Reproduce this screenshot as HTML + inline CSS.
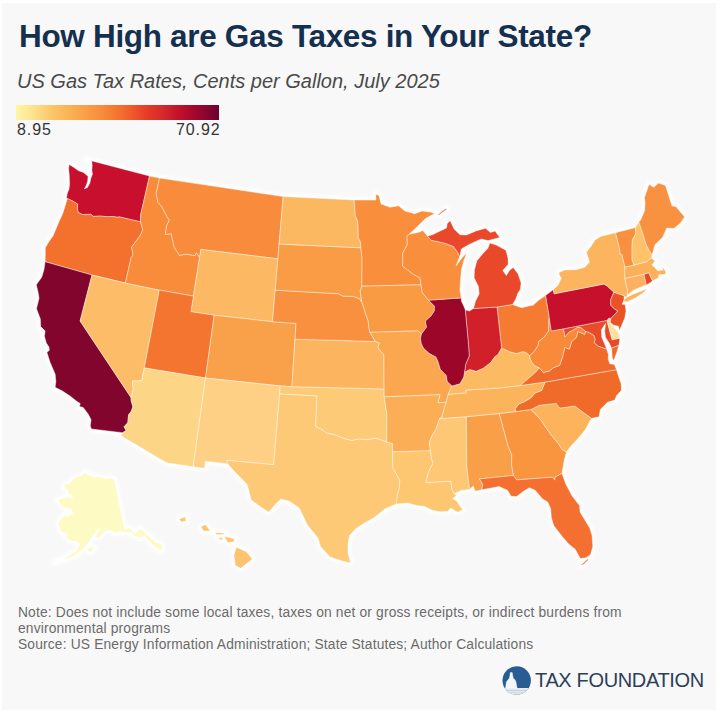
<!DOCTYPE html>
<html><head><meta charset="utf-8">
<style>
html,body{margin:0;padding:0;}
body{width:720px;height:714px;background:#fff;position:relative;overflow:hidden;font-family:"Liberation Sans",sans-serif;}
#panel{position:absolute;left:2px;top:3px;width:714px;height:707px;background:#f8f8f8;}
.t{position:absolute;white-space:nowrap;}
#title{left:19px;top:17px;font-size:31.5px;font-weight:bold;color:#15304f;line-height:38px;letter-spacing:-0.32px;}
#sub{left:17px;top:69px;font-size:20px;font-style:italic;color:#4a4a4a;line-height:24px;}
#legbar{position:absolute;left:16px;top:105px;width:203px;height:14.5px;background:linear-gradient(to right,#fff6a8 0%,#fde38e 8%,#fcc568 18%,#faa94f 30%,#f78d3d 42%,#f47530 50%,#ef5a2b 57%,#e53a28 65%,#d62a2a 72%,#c2122b 80%,#a60a2c 87%,#880530 94%,#6c0030 100%);}
.leg{top:121px;font-size:16px;color:#333;line-height:18px;letter-spacing:0.9px;}
#note{left:18px;top:604.5px;font-size:13.8px;color:#6b6b6b;line-height:16.45px;letter-spacing:0.16px;}
#lt{left:535px;top:669px;font-size:20px;color:#2c405b;line-height:22px;letter-spacing:-0.35px;}
svg{position:absolute;left:0;top:0;}
svg path{stroke:rgba(255,255,255,0.42);stroke-width:1;stroke-linejoin:round;}
svg .halo path{fill:none;stroke:#fff;stroke-width:6;}
</style></head><body>
<div id="panel"></div>
<div class="t" id="title">How High are Gas Taxes in Your State?</div>
<div class="t" id="sub">US Gas Tax Rates, Cents per Gallon, July 2025</div>
<div id="legbar"></div>
<div class="t leg" style="left:17px">8.95</div>
<div class="t leg" style="left:176px">70.92</div>
<svg width="720" height="714" viewBox="0 0 720 714">
<defs><filter id="hb" x="-5%" y="-5%" width="110%" height="110%"><feGaussianBlur stdDeviation="1.6"/></filter></defs><g class="halo" filter="url(#hb)"><path d="M86.3,159.5L149.5,176.0L140.6,215.1L140.4,221.8L118.8,216.8L118.1,217.4L112.7,216.5L107.6,216.7L100.4,216.1L93.5,216.4L90.7,214.3L82.6,214.5L78.1,212.4L77.4,208.9L77.6,204.1L72.8,201.1L67.3,198.6L66.5,197.5L67.4,192.9L69.0,189.3L69.6,183.7L69.3,175.5L68.6,168.8L69.2,164.4L73.1,166.9L78.6,170.7L83.5,172.5L85.3,174.1L88.0,176.2L87.7,181.0L86.2,185.4L84.3,188.9L87.5,187.4L89.8,183.2L90.8,178.6L92.4,174.2L91.9,170.0L92.2,165.3L91.7,161.1L86.3,159.5Z"/><path d="M67.3,198.6L72.8,201.1L77.6,204.1L77.4,208.9L78.1,212.4L82.6,214.5L90.7,214.3L93.5,216.4L100.4,216.1L107.6,216.7L112.7,216.5L118.1,217.4L118.8,216.8L140.4,221.8L141.6,225.3L142.7,230.4L139.7,236.2L137.2,239.6L131.5,247.2L132.7,252.3L132.5,255.5L131.1,257.6L125.4,283.0L92.0,275.0L45.1,261.7L45.3,253.6L45.3,247.8L49.0,241.5L53.0,236.1L57.8,224.4L63.0,212.8L65.8,203.8L67.3,198.6Z"/><path d="M45.1,261.7L92.0,275.0L80.1,321.0L131.0,397.5L131.2,400.8L132.9,406.8L131.3,411.3L128.6,414.8L127.8,422.7L124.0,426.8L126.2,430.4L122.8,432.7L91.4,429.0L90.3,426.0L91.1,419.7L88.3,414.2L83.2,407.4L79.5,406.5L80.2,403.4L76.7,401.3L70.1,396.0L62.1,390.8L55.1,387.3L55.9,381.8L55.2,374.2L50.0,362.1L46.9,352.2L49.3,350.4L49.0,347.1L46.3,343.0L44.4,335.9L45.2,331.1L40.7,326.6L40.4,319.0L36.5,308.8L39.1,298.0L38.2,292.7L36.3,284.7L41.7,277.3L44.0,269.7L45.1,261.7Z"/><path d="M92.0,275.0L125.4,283.0L159.3,290.1L144.3,367.9L141.9,380.3L137.2,381.0L132.8,380.9L132.6,384.9L133.3,389.9L131.0,397.5L80.1,321.0L92.0,275.0Z"/><path d="M149.5,176.0L159.5,178.1L156.2,193.6L158.1,202.5L161.7,206.4L167.2,217.1L169.4,219.9L166.6,225.8L165.4,234.3L171.1,233.8L174.2,247.2L179.5,255.4L186.0,254.1L194.8,255.6L196.4,252.7L199.6,257.5L193.4,296.1L159.3,290.1L125.4,283.0L131.1,257.6L132.5,255.5L132.7,252.3L131.5,247.2L137.2,239.6L139.7,236.2L142.7,230.4L141.6,225.3L140.4,221.8L140.6,215.1L149.5,176.0Z"/><path d="M159.5,178.1L283.2,196.6L279.1,244.1L277.9,258.8L200.9,249.4L199.6,257.5L196.4,252.7L194.8,255.6L186.0,254.1L179.5,255.4L174.2,247.2L171.1,233.8L165.4,234.3L166.6,225.8L169.4,219.9L167.2,217.1L161.7,206.4L158.1,202.5L156.2,193.6L159.5,178.1Z"/><path d="M199.6,257.5L200.9,249.4L277.9,258.8L275.2,290.2L272.5,321.7L214.2,315.2L190.9,311.7L193.4,296.1L199.6,257.5Z"/><path d="M159.3,290.1L193.4,296.1L190.9,311.7L214.2,315.2L205.5,378.0L144.3,367.9L159.3,290.1Z"/><path d="M214.2,315.2L272.5,321.7L296.0,323.4L295.0,339.2L291.9,386.7L280.2,385.9L205.5,378.0L214.2,315.2Z"/><path d="M144.3,367.9L205.5,378.0L193.2,466.8L166.5,462.8L121.0,435.8L122.8,432.7L126.2,430.4L124.0,426.8L127.8,422.7L128.6,414.8L131.3,411.3L132.9,406.8L131.2,400.8L131.0,397.5L133.3,389.9L132.6,384.9L132.8,380.9L137.2,381.0L141.9,380.3L144.3,367.9Z"/><path d="M205.5,378.0L280.2,385.9L279.6,393.8L273.7,464.7L226.6,460.3L227.8,463.9L205.4,461.2L204.5,468.3L193.2,466.8L205.5,378.0Z"/><path d="M279.6,393.8L317.0,395.9L315.7,426.6L322.0,429.4L325.8,432.7L334.7,434.6L342.4,437.9L351.4,440.4L359.2,438.9L367.0,439.7L376.0,438.1L386.7,442.1L392.4,443.4L392.6,451.8L392.9,467.9L396.3,474.1L399.8,480.3L399.3,488.2L397.4,494.6L396.3,504.0L384.8,508.9L382.1,511.3L373.9,517.7L364.2,523.2L355.9,528.6L349.5,535.6L348.0,543.4L347.9,552.7L350.6,562.9L342.8,561.2L330.1,557.0L320.5,546.6L318.0,537.9L307.4,524.9L299.3,508.1L289.4,501.2L280.7,499.1L275.5,504.3L268.8,512.0L260.3,506.7L251.2,500.0L247.2,484.6L236.2,473.2L227.8,463.9L226.6,460.3L273.7,464.7L279.6,393.8Z"/><path d="M280.2,385.9L291.9,386.7L384.1,388.9L384.2,396.9L386.9,414.2L386.7,442.1L376.0,438.1L367.0,439.7L359.2,438.9L351.4,440.4L342.4,437.9L334.7,434.6L325.8,432.7L322.0,429.4L315.7,426.6L317.0,395.9L279.6,393.8L280.2,385.9Z"/><path d="M291.9,386.7L295.0,339.2L375.3,341.5L379.5,343.0L377.8,347.8L383.9,354.9L384.1,388.9L291.9,386.7Z"/><path d="M272.5,321.7L275.2,290.2L338.5,293.7L343.0,296.2L353.3,296.4L359.5,298.8L361.8,302.1L363.5,306.7L365.8,314.6L368.2,320.9L368.8,327.3L369.9,332.3L375.3,341.5L295.0,339.2L296.0,323.4L272.5,321.7Z"/><path d="M277.9,258.8L279.1,244.1L360.9,247.8L362.0,257.9L361.9,286.2L360.2,290.9L361.8,302.1L359.5,298.8L353.3,296.4L343.0,296.2L338.5,293.7L275.2,290.2L277.9,258.8Z"/><path d="M283.2,196.6L354.2,200.0L355.3,215.6L357.9,221.8L358.3,237.5L360.5,242.2L360.9,247.8L279.1,244.1L283.2,196.6Z"/><path d="M354.2,200.0L375.9,200.1L375.8,194.2L378.9,195.4L381.1,203.9L390.1,207.3L398.5,205.8L405.0,211.0L414.6,213.7L421.9,211.0L430.4,212.1L434.7,213.4L425.5,218.6L414.3,229.4L409.1,234.3L407.0,235.9L407.3,244.5L402.7,253.3L402.9,260.4L402.6,265.9L408.3,270.4L413.0,274.2L419.9,277.8L421.1,284.8L361.9,286.2L362.0,257.9L360.9,247.8L360.5,242.2L358.3,237.5L357.9,221.8L355.3,215.6L354.2,200.0Z"/><path d="M361.9,286.2L421.1,284.8L422.3,292.7L428.5,300.2L434.6,306.2L434.3,311.0L431.1,315.9L425.5,321.0L426.5,327.3L421.5,333.9L417.8,330.9L369.9,332.3L368.8,327.3L368.2,320.9L365.8,314.6L363.5,306.7L361.8,302.1L360.2,290.9L361.9,286.2Z"/><path d="M369.9,332.3L417.8,330.9L421.5,333.9L420.5,338.7L421.3,343.4L423.4,348.1L429.0,353.3L435.9,356.9L438.0,361.5L440.3,369.3L446.2,375.3L447.3,381.6L452.0,386.0L448.2,394.2L446.2,402.3L437.8,402.8L440.1,394.7L384.2,396.9L384.1,388.9L383.9,354.9L377.8,347.8L379.5,343.0L375.3,341.5L369.9,332.3Z"/><path d="M384.2,396.9L440.1,394.7L437.8,402.8L446.2,402.3L444.1,408.8L442.1,416.8L439.6,418.6L436.3,428.3L431.6,436.4L429.3,442.9L430.4,450.8L392.6,451.8L392.4,443.4L386.7,442.1L386.9,414.2L384.2,396.9Z"/><path d="M392.6,451.8L430.4,450.8L431.5,458.6L433.0,463.3L428.2,473.0L426.0,482.5L450.8,481.2L451.9,489.0L454.3,493.8L456.5,495.7L452.6,498.4L456.9,501.2L460.0,506.5L462.9,509.4L457.6,512.2L450.5,507.9L447.9,511.3L441.1,511.7L432.8,510.5L424.3,506.2L417.5,505.7L407.8,502.9L396.3,504.0L397.4,494.6L399.3,488.2L399.8,480.3L396.3,474.1L392.9,467.9L392.6,451.8Z"/><path d="M439.6,418.6L466.3,416.7L466.8,465.8L469.6,489.6L461.5,490.2L454.3,493.8L451.9,489.0L450.8,481.2L426.0,482.5L428.2,473.0L433.0,463.3L431.5,458.6L430.4,450.8L429.3,442.9L431.6,436.4L436.3,428.3L439.6,418.6Z"/><path d="M466.3,416.7L499.3,413.5L508.1,445.9L511.8,455.0L511.6,464.6L513.5,475.5L479.5,478.9L482.7,484.2L481.8,489.8L475.1,491.2L473.3,485.8L469.6,489.6L466.8,465.8L466.3,416.7Z"/><path d="M499.3,413.5L515.5,411.6L530.9,409.6L536.1,414.5L541.6,420.9L545.8,427.5L551.6,435.4L558.1,443.2L562.4,449.7L566.5,451.8L564.1,460.6L562.0,473.4L555.1,477.1L554.9,480.2L552.4,477.2L516.6,479.9L513.5,475.5L511.6,464.6L511.8,455.0L508.1,445.9L499.3,413.5Z"/><path d="M513.5,475.5L516.6,479.9L552.4,477.2L554.9,480.2L555.1,477.1L562.0,473.4L565.8,484.2L571.7,495.2L579.6,505.8L580.0,512.1L589.7,527.9L592.0,535.5L592.8,546.4L590.6,554.6L586.0,557.7L580.3,558.6L575.2,549.2L568.6,543.9L562.6,537.0L553.8,525.6L551.4,518.1L550.7,508.7L547.7,502.0L542.4,498.8L535.1,490.2L529.3,487.8L524.2,490.8L516.6,496.5L511.1,496.3L507.7,490.4L499.2,486.5L481.8,489.8L482.7,484.2L479.5,478.9L513.5,475.5ZM581.4,565.5L584.7,563.4L588.5,559.7L587.6,559.0L583.8,562.5L581.2,564.6L581.4,565.5Z"/><path d="M566.5,451.8L562.4,449.7L558.1,443.2L551.6,435.4L545.8,427.5L541.6,420.9L536.1,414.5L530.9,409.6L539.3,405.2L556.4,403.4L558.2,406.4L560.4,408.1L574.7,406.0L591.5,418.3L585.0,429.9L577.4,439.2L571.7,445.0L566.5,451.8Z"/><path d="M545.1,382.1L616.5,369.7L617.6,373.5L621.2,384.1L621.3,390.5L616.5,395.6L614.8,400.0L607.4,402.3L600.3,409.4L599.1,416.8L591.5,418.3L574.7,406.0L560.4,408.1L558.2,406.4L556.4,403.4L539.3,405.2L530.9,409.6L515.5,411.6L515.4,408.4L518.7,404.0L524.7,401.6L531.2,397.6L535.0,393.0L541.6,390.5L543.0,387.1L545.1,382.1Z"/><path d="M520.3,385.5L497.8,388.2L465.7,390.0L466.0,392.9L448.2,394.2L446.2,402.3L444.1,408.8L442.1,416.8L439.6,418.6L466.3,416.7L499.3,413.5L515.5,411.6L515.4,408.4L518.7,404.0L524.7,401.6L531.2,397.6L535.0,393.0L541.6,390.5L543.0,387.1L545.1,382.1L520.3,385.5Z"/><path d="M520.3,385.5L526.9,379.8L531.3,376.0L535.8,372.1L539.3,367.8L534.9,365.9L531.9,362.3L530.2,359.0L529.7,355.4L526.2,352.7L523.0,351.5L516.5,353.5L509.6,351.7L501.6,347.9L497.7,354.7L494.9,356.6L490.6,362.6L485.5,366.4L483.2,368.2L476.1,371.3L469.8,369.5L464.5,372.3L463.7,377.1L459.9,383.8L452.0,386.0L448.2,394.2L466.0,392.9L465.7,390.0L497.8,388.2L520.3,385.5Z"/><path d="M616.5,369.7L545.1,382.1L520.3,385.5L526.9,379.8L531.3,376.0L535.8,372.1L539.3,367.8L543.4,372.6L549.4,370.9L553.3,367.8L559.7,365.2L562.6,356.7L564.8,347.4L569.4,349.1L571.7,341.4L576.5,337.3L577.8,331.4L584.8,334.4L585.5,331.2L589.0,332.5L594.0,335.5L595.3,339.3L594.2,342.7L598.0,346.0L606.7,349.1L608.4,354.4L608.2,359.3L609.8,363.8L614.4,364.5L616.5,369.7ZM619.0,345.1L616.4,353.5L613.6,360.6L612.4,358.4L611.5,348.1L619.0,345.1Z"/><path d="M549.0,316.5L548.7,322.0L548.5,330.9L544.1,337.2L538.6,341.3L538.0,345.4L534.0,351.6L529.7,355.4L530.2,359.0L531.9,362.3L534.9,365.9L539.3,367.8L543.4,372.6L549.4,370.9L553.3,367.8L559.7,365.2L562.6,356.7L564.8,347.4L569.4,349.1L571.7,341.4L576.5,337.3L577.8,331.4L584.8,334.4L585.5,331.2L580.0,326.9L577.1,327.5L573.3,329.8L568.8,332.2L565.0,336.9L563.6,328.8L551.3,330.9L549.0,316.5Z"/><path d="M563.6,328.8L606.9,320.4L612.2,339.8L619.9,338.1L619.0,345.1L611.5,348.1L609.1,342.9L605.4,337.2L604.7,330.9L605.6,323.4L604.2,325.3L601.4,329.9L601.7,337.2L604.2,343.1L606.7,349.1L598.0,346.0L594.2,342.7L595.3,339.3L594.0,335.5L589.0,332.5L585.5,331.2L580.0,326.9L577.1,327.5L573.3,329.8L568.8,332.2L565.0,336.9L563.6,328.8Z"/><path d="M606.9,320.4L608.7,318.2L610.9,318.2L610.4,323.2L613.1,326.6L618.7,332.7L619.9,338.1L612.2,339.8L606.9,320.4Z"/><path d="M545.5,295.6L553.4,289.6L554.1,293.8L604.1,284.0L607.8,286.5L613.9,292.2L610.7,299.6L610.8,305.2L614.7,309.2L617.9,310.9L614.2,315.0L610.9,318.2L608.7,318.2L606.9,320.4L563.6,328.8L551.3,330.9L549.0,316.5L545.5,295.6Z"/><path d="M610.9,318.2L614.2,315.0L617.9,310.9L614.7,309.2L610.8,305.2L610.7,299.6L613.9,292.2L624.0,295.7L624.0,299.8L623.3,301.6L622.1,304.3L625.1,304.4L626.0,310.7L624.7,318.3L622.3,323.8L619.5,330.4L618.5,326.2L613.3,325.0L610.3,322.4L610.9,318.2Z"/><path d="M613.9,292.2L607.8,286.5L604.1,284.0L554.1,293.8L553.4,289.6L558.0,285.2L561.4,278.1L559.9,276.0L558.7,272.8L564.6,270.0L576.1,269.7L584.8,267.2L589.6,262.1L586.4,252.3L590.8,246.6L595.1,240.0L601.1,236.2L615.6,232.7L617.5,240.4L619.4,248.1L620.3,254.4L622.1,254.7L624.9,267.0L624.9,278.4L626.6,286.9L627.7,289.9L627.2,295.3L626.0,297.7L624.0,295.7L613.9,292.2ZM624.3,301.8L627.5,301.7L635.7,297.8L643.0,293.0L647.3,288.8L640.2,291.4L632.5,294.5L626.5,297.5L624.1,300.2L624.3,301.8Z"/><path d="M545.5,295.6L538.3,300.5L533.2,305.3L529.7,305.8L521.7,307.7L518.0,306.6L512.5,304.5L497.0,307.0L501.6,347.9L509.6,351.7L516.5,353.5L523.0,351.5L526.2,352.7L529.7,355.4L534.0,351.6L538.0,345.4L538.6,341.3L544.1,337.2L548.5,330.9L548.7,322.0L549.0,316.5L545.5,295.6Z"/><path d="M497.0,307.0L501.6,347.9L497.7,354.7L494.9,356.6L490.6,362.6L485.5,366.4L483.2,368.2L476.1,371.3L469.8,369.5L464.5,372.3L465.7,364.3L469.2,356.0L468.7,347.3L465.3,309.9L469.3,311.1L473.5,308.5L497.0,307.0Z"/><path d="M464.5,372.3L465.7,364.3L469.2,356.0L468.7,347.3L465.3,309.9L464.3,307.2L461.4,301.1L461.2,297.9L428.5,300.2L434.6,306.2L434.3,311.0L431.1,315.9L425.5,321.0L426.5,327.3L421.5,333.9L420.5,338.7L421.3,343.4L423.4,348.1L429.0,353.3L435.9,356.9L438.0,361.5L440.3,369.3L446.2,375.3L447.3,381.6L452.0,386.0L459.9,383.8L463.7,377.1L464.5,372.3Z"/><path d="M428.5,300.2L461.2,297.9L459.9,290.1L460.6,278.9L461.5,269.4L463.6,261.3L466.7,253.1L463.1,256.6L459.6,260.9L456.1,265.9L458.4,259.4L459.8,256.9L457.8,252.4L453.4,246.4L447.2,244.1L442.1,242.6L431.1,240.2L427.6,236.2L422.9,230.5L418.7,232.3L409.1,234.3L407.0,235.9L407.3,244.5L402.7,253.3L402.9,260.4L402.6,265.9L408.3,270.4L413.0,274.2L419.9,277.8L421.1,284.8L422.3,292.7L428.5,300.2Z"/><path d="M459.8,256.9L461.3,248.9L469.7,244.2L473.9,242.2L481.2,239.0L488.0,240.6L493.3,239.2L499.7,237.6L495.1,231.1L490.3,232.4L485.5,228.3L476.0,230.9L466.6,235.0L460.0,234.8L454.1,229.1L450.2,220.8L447.2,223.4L446.5,228.1L440.2,231.0L432.9,234.6L427.6,236.2L431.1,240.2L442.1,242.6L447.2,244.1L453.4,246.4L457.8,252.4L459.8,256.9ZM497.0,307.0L473.5,308.5L475.4,301.4L479.2,293.8L478.5,286.7L474.1,277.7L474.5,269.7L476.9,260.8L481.9,254.7L484.3,252.1L487.8,248.5L489.9,243.0L496.3,245.1L505.8,250.2L508.0,257.9L508.2,264.2L502.8,270.4L506.3,275.6L509.6,270.3L513.2,267.5L518.1,273.9L521.1,283.1L520.3,289.6L517.9,293.1L515.8,299.0L512.5,304.5L497.0,307.0ZM438.6,215.3L442.1,212.5L446.6,209.4L446.0,208.6L441.5,211.6L438.0,214.7L438.6,215.3Z"/><path d="M624.9,278.4L626.6,286.9L627.7,289.9L627.2,295.3L633.8,290.1L640.3,287.3L646.4,284.9L644.1,274.1L624.9,278.4Z"/><path d="M644.1,274.1L646.4,284.9L650.6,282.5L652.5,280.7L650.5,276.8L648.9,272.8L644.1,274.1Z"/><path d="M624.9,278.4L644.1,274.1L648.9,272.8L650.5,276.8L652.5,280.7L653.9,280.0L658.4,278.0L658.7,274.6L665.3,274.4L665.8,271.8L663.6,268.3L661.9,268.8L663.4,270.0L657.7,270.8L654.9,267.4L651.9,265.0L654.9,260.9L651.6,258.2L649.1,259.2L647.4,261.5L634.0,265.1L624.9,267.0L624.9,278.4Z"/><path d="M624.9,267.0L634.0,265.1L632.1,259.6L632.0,249.8L632.4,240.0L635.9,233.4L635.5,227.6L615.6,232.7L617.5,240.4L619.4,248.1L620.3,254.4L622.1,254.7L624.9,267.0Z"/><path d="M635.5,227.6L635.9,233.4L632.4,240.0L632.0,249.8L632.1,259.6L634.0,265.1L647.4,261.5L649.1,259.2L651.6,258.2L652.1,254.8L649.8,251.7L646.1,244.5L642.9,233.9L638.8,222.0L635.5,227.6Z"/><path d="M638.8,222.0L640.8,219.8L644.6,210.7L645.1,202.4L644.4,197.7L649.1,184.2L653.7,187.3L658.6,183.1L665.5,185.5L672.0,206.0L675.9,206.4L680.6,212.3L684.6,216.9L680.5,223.1L673.9,228.4L666.8,228.0L662.5,237.5L655.1,244.5L652.1,254.8L649.8,251.7L646.1,244.5L642.9,233.9L638.8,222.0Z"/><path d="M236.4,547.2L246.4,551.8L252.4,559.1L240.6,568.3L235.4,565.5L233.9,555.3L236.4,547.2ZM224.2,536.6L227.9,537.1L234.5,538.9L233.8,542.0L227.9,542.4L224.2,536.6ZM215.4,532.4L224.2,533.2L223.5,534.6L216.1,534.6L215.4,532.4ZM219.1,537.4L222.7,537.7L222.0,540.0L219.8,539.7L219.1,537.4ZM201.0,526.7L205.5,524.6L210.2,531.1L203.6,531.1L201.0,526.7ZM179.0,519.2L185.3,516.7L186.0,520.9L181.6,521.9L179.0,519.2Z"/><path d="M114.4,479.3L109.3,477.7L105.6,478.8L101.6,477.6L97.8,476.9L94.1,477.6L92.1,475.5L88.4,475.0L84.7,472.5L82.0,475.3L78.5,476.7L74.6,477.9L72.0,480.3L69.4,484.3L65.1,483.6L64.1,486.7L67.6,490.6L68.6,494.1L72.1,495.7L72.4,498.5L67.5,497.2L62.8,498.1L57.6,500.4L60.6,503.9L63.5,507.7L68.2,508.2L71.6,509.4L72.9,512.9L71.0,514.6L67.1,516.3L63.2,515.5L61.7,518.6L57.9,523.5L59.7,527.2L61.4,531.9L66.1,533.7L67.2,538.3L72.3,541.6L78.0,541.8L80.1,544.4L75.6,551.8L67.9,556.1L61.1,560.3L54.9,562.7L59.5,560.1L64.4,559.0L72.4,557.1L78.8,552.6L83.5,548.4L87.9,542.9L91.3,538.5L94.8,533.5L96.3,530.7L99.9,527.7L97.5,532.8L95.5,537.3L99.1,537.7L101.7,534.8L105.5,531.2L109.5,530.2L115.3,532.8L120.6,531.7L126.4,532.5L130.6,532.5L135.6,536.4L139.7,537.3L144.7,536.1L149.6,541.8L154.2,546.1L158.5,549.3L162.1,550.9L161.6,544.1L155.1,542.3L149.0,536.2L140.4,528.5L135.1,533.4L129.6,528.2L124.4,529.6L114.4,479.3ZM87.0,549.5L91.7,546.2L94.6,547.8L90.0,552.3L87.0,549.5Z"/></g>
<path fill="#c8102e" d="M86.3,159.5L149.5,176.0L140.6,215.1L140.4,221.8L118.8,216.8L118.1,217.4L112.7,216.5L107.6,216.7L100.4,216.1L93.5,216.4L90.7,214.3L82.6,214.5L78.1,212.4L77.4,208.9L77.6,204.1L72.8,201.1L67.3,198.6L66.5,197.5L67.4,192.9L69.0,189.3L69.6,183.7L69.3,175.5L68.6,168.8L69.2,164.4L73.1,166.9L78.6,170.7L83.5,172.5L85.3,174.1L88.0,176.2L87.7,181.0L86.2,185.4L84.3,188.9L87.5,187.4L89.8,183.2L90.8,178.6L92.4,174.2L91.9,170.0L92.2,165.3L91.7,161.1L86.3,159.5Z"/>
<path fill="#f3702d" d="M67.3,198.6L72.8,201.1L77.6,204.1L77.4,208.9L78.1,212.4L82.6,214.5L90.7,214.3L93.5,216.4L100.4,216.1L107.6,216.7L112.7,216.5L118.1,217.4L118.8,216.8L140.4,221.8L141.6,225.3L142.7,230.4L139.7,236.2L137.2,239.6L131.5,247.2L132.7,252.3L132.5,255.5L131.1,257.6L125.4,283.0L92.0,275.0L45.1,261.7L45.3,253.6L45.3,247.8L49.0,241.5L53.0,236.1L57.8,224.4L63.0,212.8L65.8,203.8L67.3,198.6Z"/>
<path fill="#82052e" d="M45.1,261.7L92.0,275.0L80.1,321.0L131.0,397.5L131.2,400.8L132.9,406.8L131.3,411.3L128.6,414.8L127.8,422.7L124.0,426.8L126.2,430.4L122.8,432.7L91.4,429.0L90.3,426.0L91.1,419.7L88.3,414.2L83.2,407.4L79.5,406.5L80.2,403.4L76.7,401.3L70.1,396.0L62.1,390.8L55.1,387.3L55.9,381.8L55.2,374.2L50.0,362.1L46.9,352.2L49.3,350.4L49.0,347.1L46.3,343.0L44.4,335.9L45.2,331.1L40.7,326.6L40.4,319.0L36.5,308.8L39.1,298.0L38.2,292.7L36.3,284.7L41.7,277.3L44.0,269.7L45.1,261.7Z"/>
<path fill="#fdbd68" d="M92.0,275.0L125.4,283.0L159.3,290.1L144.3,367.9L141.9,380.3L137.2,381.0L132.8,380.9L132.6,384.9L133.3,389.9L131.0,397.5L80.1,321.0L92.0,275.0Z"/>
<path fill="#f98c3a" d="M149.5,176.0L159.5,178.1L156.2,193.6L158.1,202.5L161.7,206.4L167.2,217.1L169.4,219.9L166.6,225.8L165.4,234.3L171.1,233.8L174.2,247.2L179.5,255.4L186.0,254.1L194.8,255.6L196.4,252.7L199.6,257.5L193.4,296.1L159.3,290.1L125.4,283.0L131.1,257.6L132.5,255.5L132.7,252.3L131.5,247.2L137.2,239.6L139.7,236.2L142.7,230.4L141.6,225.3L140.4,221.8L140.6,215.1L149.5,176.0Z"/>
<path fill="#f88c3c" d="M159.5,178.1L283.2,196.6L279.1,244.1L277.9,258.8L200.9,249.4L199.6,257.5L196.4,252.7L194.8,255.6L186.0,254.1L179.5,255.4L174.2,247.2L171.1,233.8L165.4,234.3L166.6,225.8L169.4,219.9L167.2,217.1L161.7,206.4L158.1,202.5L156.2,193.6L159.5,178.1Z"/>
<path fill="#fcb862" d="M199.6,257.5L200.9,249.4L277.9,258.8L275.2,290.2L272.5,321.7L214.2,315.2L190.9,311.7L193.4,296.1L199.6,257.5Z"/>
<path fill="#f47530" d="M159.3,290.1L193.4,296.1L190.9,311.7L214.2,315.2L205.5,378.0L144.3,367.9L159.3,290.1Z"/>
<path fill="#f9a04a" d="M214.2,315.2L272.5,321.7L296.0,323.4L295.0,339.2L291.9,386.7L280.2,385.9L205.5,378.0L214.2,315.2Z"/>
<path fill="#fdd586" d="M144.3,367.9L205.5,378.0L193.2,466.8L166.5,462.8L121.0,435.8L122.8,432.7L126.2,430.4L124.0,426.8L127.8,422.7L128.6,414.8L131.3,411.3L132.9,406.8L131.2,400.8L131.0,397.5L133.3,389.9L132.6,384.9L132.8,380.9L137.2,381.0L141.9,380.3L144.3,367.9Z"/>
<path fill="#fdd085" d="M205.5,378.0L280.2,385.9L279.6,393.8L273.7,464.7L226.6,460.3L227.8,463.9L205.4,461.2L204.5,468.3L193.2,466.8L205.5,378.0Z"/>
<path fill="#fdc977" d="M279.6,393.8L317.0,395.9L315.7,426.6L322.0,429.4L325.8,432.7L334.7,434.6L342.4,437.9L351.4,440.4L359.2,438.9L367.0,439.7L376.0,438.1L386.7,442.1L392.4,443.4L392.6,451.8L392.9,467.9L396.3,474.1L399.8,480.3L399.3,488.2L397.4,494.6L396.3,504.0L384.8,508.9L382.1,511.3L373.9,517.7L364.2,523.2L355.9,528.6L349.5,535.6L348.0,543.4L347.9,552.7L350.6,562.9L342.8,561.2L330.1,557.0L320.5,546.6L318.0,537.9L307.4,524.9L299.3,508.1L289.4,501.2L280.7,499.1L275.5,504.3L268.8,512.0L260.3,506.7L251.2,500.0L247.2,484.6L236.2,473.2L227.8,463.9L226.6,460.3L273.7,464.7L279.6,393.8Z"/>
<path fill="#fdcb78" d="M280.2,385.9L291.9,386.7L384.1,388.9L384.2,396.9L386.9,414.2L386.7,442.1L376.0,438.1L367.0,439.7L359.2,438.9L351.4,440.4L342.4,437.9L334.7,434.6L325.8,432.7L322.0,429.4L315.7,426.6L317.0,395.9L279.6,393.8L280.2,385.9Z"/>
<path fill="#fcb45f" d="M291.9,386.7L295.0,339.2L375.3,341.5L379.5,343.0L377.8,347.8L383.9,354.9L384.1,388.9L291.9,386.7Z"/>
<path fill="#f99040" d="M272.5,321.7L275.2,290.2L338.5,293.7L343.0,296.2L353.3,296.4L359.5,298.8L361.8,302.1L363.5,306.7L365.8,314.6L368.2,320.9L368.8,327.3L369.9,332.3L375.3,341.5L295.0,339.2L296.0,323.4L272.5,321.7Z"/>
<path fill="#f99c45" d="M277.9,258.8L279.1,244.1L360.9,247.8L362.0,257.9L361.9,286.2L360.2,290.9L361.8,302.1L359.5,298.8L353.3,296.4L343.0,296.2L338.5,293.7L275.2,290.2L277.9,258.8Z"/>
<path fill="#fcb860" d="M283.2,196.6L354.2,200.0L355.3,215.6L357.9,221.8L358.3,237.5L360.5,242.2L360.9,247.8L279.1,244.1L283.2,196.6Z"/>
<path fill="#f98f3d" d="M354.2,200.0L375.9,200.1L375.8,194.2L378.9,195.4L381.1,203.9L390.1,207.3L398.5,205.8L405.0,211.0L414.6,213.7L421.9,211.0L430.4,212.1L434.7,213.4L425.5,218.6L414.3,229.4L409.1,234.3L407.0,235.9L407.3,244.5L402.7,253.3L402.9,260.4L402.6,265.9L408.3,270.4L413.0,274.2L419.9,277.8L421.1,284.8L361.9,286.2L362.0,257.9L360.9,247.8L360.5,242.2L358.3,237.5L357.9,221.8L355.3,215.6L354.2,200.0Z"/>
<path fill="#f99b42" d="M361.9,286.2L421.1,284.8L422.3,292.7L428.5,300.2L434.6,306.2L434.3,311.0L431.1,315.9L425.5,321.0L426.5,327.3L421.5,333.9L417.8,330.9L369.9,332.3L368.8,327.3L368.2,320.9L365.8,314.6L363.5,306.7L361.8,302.1L360.2,290.9L361.9,286.2Z"/>
<path fill="#fba750" d="M369.9,332.3L417.8,330.9L421.5,333.9L420.5,338.7L421.3,343.4L423.4,348.1L429.0,353.3L435.9,356.9L438.0,361.5L440.3,369.3L446.2,375.3L447.3,381.6L452.0,386.0L448.2,394.2L446.2,402.3L437.8,402.8L440.1,394.7L384.2,396.9L384.1,388.9L383.9,354.9L377.8,347.8L379.5,343.0L375.3,341.5L369.9,332.3Z"/>
<path fill="#fbae55" d="M384.2,396.9L440.1,394.7L437.8,402.8L446.2,402.3L444.1,408.8L442.1,416.8L439.6,418.6L436.3,428.3L431.6,436.4L429.3,442.9L430.4,450.8L392.6,451.8L392.4,443.4L386.7,442.1L386.9,414.2L384.2,396.9Z"/>
<path fill="#fdc670" d="M392.6,451.8L430.4,450.8L431.5,458.6L433.0,463.3L428.2,473.0L426.0,482.5L450.8,481.2L451.9,489.0L454.3,493.8L456.5,495.7L452.6,498.4L456.9,501.2L460.0,506.5L462.9,509.4L457.6,512.2L450.5,507.9L447.9,511.3L441.1,511.7L432.8,510.5L424.3,506.2L417.5,505.7L407.8,502.9L396.3,504.0L397.4,494.6L399.3,488.2L399.8,480.3L396.3,474.1L392.9,467.9L392.6,451.8Z"/>
<path fill="#fdc775" d="M439.6,418.6L466.3,416.7L466.8,465.8L469.6,489.6L461.5,490.2L454.3,493.8L451.9,489.0L450.8,481.2L426.0,482.5L428.2,473.0L433.0,463.3L431.5,458.6L430.4,450.8L429.3,442.9L431.6,436.4L436.3,428.3L439.6,418.6Z"/>
<path fill="#f99f47" d="M466.3,416.7L499.3,413.5L508.1,445.9L511.8,455.0L511.6,464.6L513.5,475.5L479.5,478.9L482.7,484.2L481.8,489.8L475.1,491.2L473.3,485.8L469.6,489.6L466.8,465.8L466.3,416.7Z"/>
<path fill="#f9953f" d="M499.3,413.5L515.5,411.6L530.9,409.6L536.1,414.5L541.6,420.9L545.8,427.5L551.6,435.4L558.1,443.2L562.4,449.7L566.5,451.8L564.1,460.6L562.0,473.4L555.1,477.1L554.9,480.2L552.4,477.2L516.6,479.9L513.5,475.5L511.6,464.6L511.8,455.0L508.1,445.9L499.3,413.5Z"/>
<path fill="#f47030" d="M513.5,475.5L516.6,479.9L552.4,477.2L554.9,480.2L555.1,477.1L562.0,473.4L565.8,484.2L571.7,495.2L579.6,505.8L580.0,512.1L589.7,527.9L592.0,535.5L592.8,546.4L590.6,554.6L586.0,557.7L580.3,558.6L575.2,549.2L568.6,543.9L562.6,537.0L553.8,525.6L551.4,518.1L550.7,508.7L547.7,502.0L542.4,498.8L535.1,490.2L529.3,487.8L524.2,490.8L516.6,496.5L511.1,496.3L507.7,490.4L499.2,486.5L481.8,489.8L482.7,484.2L479.5,478.9L513.5,475.5ZM581.4,565.5L584.7,563.4L588.5,559.7L587.6,559.0L583.8,562.5L581.2,564.6L581.4,565.5Z"/>
<path fill="#fcb35c" d="M566.5,451.8L562.4,449.7L558.1,443.2L551.6,435.4L545.8,427.5L541.6,420.9L536.1,414.5L530.9,409.6L539.3,405.2L556.4,403.4L558.2,406.4L560.4,408.1L574.7,406.0L591.5,418.3L585.0,429.9L577.4,439.2L571.7,445.0L566.5,451.8Z"/>
<path fill="#f06a2a" d="M545.1,382.1L616.5,369.7L617.6,373.5L621.2,384.1L621.3,390.5L616.5,395.6L614.8,400.0L607.4,402.3L600.3,409.4L599.1,416.8L591.5,418.3L574.7,406.0L560.4,408.1L558.2,406.4L556.4,403.4L539.3,405.2L530.9,409.6L515.5,411.6L515.4,408.4L518.7,404.0L524.7,401.6L531.2,397.6L535.0,393.0L541.6,390.5L543.0,387.1L545.1,382.1Z"/>
<path fill="#fcb45c" d="M520.3,385.5L497.8,388.2L465.7,390.0L466.0,392.9L448.2,394.2L446.2,402.3L444.1,408.8L442.1,416.8L439.6,418.6L466.3,416.7L499.3,413.5L515.5,411.6L515.4,408.4L518.7,404.0L524.7,401.6L531.2,397.6L535.0,393.0L541.6,390.5L543.0,387.1L545.1,382.1L520.3,385.5Z"/>
<path fill="#fcbb63" d="M520.3,385.5L526.9,379.8L531.3,376.0L535.8,372.1L539.3,367.8L534.9,365.9L531.9,362.3L530.2,359.0L529.7,355.4L526.2,352.7L523.0,351.5L516.5,353.5L509.6,351.7L501.6,347.9L497.7,354.7L494.9,356.6L490.6,362.6L485.5,366.4L483.2,368.2L476.1,371.3L469.8,369.5L464.5,372.3L463.7,377.1L459.9,383.8L452.0,386.0L448.2,394.2L466.0,392.9L465.7,390.0L497.8,388.2L520.3,385.5Z"/>
<path fill="#f06a2c" d="M616.5,369.7L545.1,382.1L520.3,385.5L526.9,379.8L531.3,376.0L535.8,372.1L539.3,367.8L543.4,372.6L549.4,370.9L553.3,367.8L559.7,365.2L562.6,356.7L564.8,347.4L569.4,349.1L571.7,341.4L576.5,337.3L577.8,331.4L584.8,334.4L585.5,331.2L589.0,332.5L594.0,335.5L595.3,339.3L594.2,342.7L598.0,346.0L606.7,349.1L608.4,354.4L608.2,359.3L609.8,363.8L614.4,364.5L616.5,369.7ZM619.0,345.1L616.4,353.5L613.6,360.6L612.4,358.4L611.5,348.1L619.0,345.1Z"/>
<path fill="#f88a3a" d="M549.0,316.5L548.7,322.0L548.5,330.9L544.1,337.2L538.6,341.3L538.0,345.4L534.0,351.6L529.7,355.4L530.2,359.0L531.9,362.3L534.9,365.9L539.3,367.8L543.4,372.6L549.4,370.9L553.3,367.8L559.7,365.2L562.6,356.7L564.8,347.4L569.4,349.1L571.7,341.4L576.5,337.3L577.8,331.4L584.8,334.4L585.5,331.2L580.0,326.9L577.1,327.5L573.3,329.8L568.8,332.2L565.0,336.9L563.6,328.8L551.3,330.9L549.0,316.5Z"/>
<path fill="#e74b2a" d="M563.6,328.8L606.9,320.4L612.2,339.8L619.9,338.1L619.0,345.1L611.5,348.1L609.1,342.9L605.4,337.2L604.7,330.9L605.6,323.4L604.2,325.3L601.4,329.9L601.7,337.2L604.2,343.1L606.7,349.1L598.0,346.0L594.2,342.7L595.3,339.3L594.0,335.5L589.0,332.5L585.5,331.2L580.0,326.9L577.1,327.5L573.3,329.8L568.8,332.2L565.0,336.9L563.6,328.8Z"/>
<path fill="#fde0a0" d="M606.9,320.4L608.7,318.2L610.9,318.2L610.4,323.2L613.1,326.6L618.7,332.7L619.9,338.1L612.2,339.8L606.9,320.4Z"/>
<path fill="#c7102b" d="M545.5,295.6L553.4,289.6L554.1,293.8L604.1,284.0L607.8,286.5L613.9,292.2L610.7,299.6L610.8,305.2L614.7,309.2L617.9,310.9L614.2,315.0L610.9,318.2L608.7,318.2L606.9,320.4L563.6,328.8L551.3,330.9L549.0,316.5L545.5,295.6Z"/>
<path fill="#ec5228" d="M610.9,318.2L614.2,315.0L617.9,310.9L614.7,309.2L610.8,305.2L610.7,299.6L613.9,292.2L624.0,295.7L624.0,299.8L623.3,301.6L622.1,304.3L625.1,304.4L626.0,310.7L624.7,318.3L622.3,323.8L619.5,330.4L618.5,326.2L613.3,325.0L610.3,322.4L610.9,318.2Z"/>
<path fill="#fcb45e" d="M613.9,292.2L607.8,286.5L604.1,284.0L554.1,293.8L553.4,289.6L558.0,285.2L561.4,278.1L559.9,276.0L558.7,272.8L564.6,270.0L576.1,269.7L584.8,267.2L589.6,262.1L586.4,252.3L590.8,246.6L595.1,240.0L601.1,236.2L615.6,232.7L617.5,240.4L619.4,248.1L620.3,254.4L622.1,254.7L624.9,267.0L624.9,278.4L626.6,286.9L627.7,289.9L627.2,295.3L626.0,297.7L624.0,295.7L613.9,292.2ZM624.3,301.8L627.5,301.7L635.7,297.8L643.0,293.0L647.3,288.8L640.2,291.4L632.5,294.5L626.5,297.5L624.1,300.2L624.3,301.8Z"/>
<path fill="#f57b32" d="M545.5,295.6L538.3,300.5L533.2,305.3L529.7,305.8L521.7,307.7L518.0,306.6L512.5,304.5L497.0,307.0L501.6,347.9L509.6,351.7L516.5,353.5L523.0,351.5L526.2,352.7L529.7,355.4L534.0,351.6L538.0,345.4L538.6,341.3L544.1,337.2L548.5,330.9L548.7,322.0L549.0,316.5L545.5,295.6Z"/>
<path fill="#d2202a" d="M497.0,307.0L501.6,347.9L497.7,354.7L494.9,356.6L490.6,362.6L485.5,366.4L483.2,368.2L476.1,371.3L469.8,369.5L464.5,372.3L465.7,364.3L469.2,356.0L468.7,347.3L465.3,309.9L469.3,311.1L473.5,308.5L497.0,307.0Z"/>
<path fill="#9c0729" d="M464.5,372.3L465.7,364.3L469.2,356.0L468.7,347.3L465.3,309.9L464.3,307.2L461.4,301.1L461.2,297.9L428.5,300.2L434.6,306.2L434.3,311.0L431.1,315.9L425.5,321.0L426.5,327.3L421.5,333.9L420.5,338.7L421.3,343.4L423.4,348.1L429.0,353.3L435.9,356.9L438.0,361.5L440.3,369.3L446.2,375.3L447.3,381.6L452.0,386.0L459.9,383.8L463.7,377.1L464.5,372.3Z"/>
<path fill="#f98f3d" d="M428.5,300.2L461.2,297.9L459.9,290.1L460.6,278.9L461.5,269.4L463.6,261.3L466.7,253.1L463.1,256.6L459.6,260.9L456.1,265.9L458.4,259.4L459.8,256.9L457.8,252.4L453.4,246.4L447.2,244.1L442.1,242.6L431.1,240.2L427.6,236.2L422.9,230.5L418.7,232.3L409.1,234.3L407.0,235.9L407.3,244.5L402.7,253.3L402.9,260.4L402.6,265.9L408.3,270.4L413.0,274.2L419.9,277.8L421.1,284.8L422.3,292.7L428.5,300.2Z"/>
<path fill="#e9492a" d="M459.8,256.9L461.3,248.9L469.7,244.2L473.9,242.2L481.2,239.0L488.0,240.6L493.3,239.2L499.7,237.6L495.1,231.1L490.3,232.4L485.5,228.3L476.0,230.9L466.6,235.0L460.0,234.8L454.1,229.1L450.2,220.8L447.2,223.4L446.5,228.1L440.2,231.0L432.9,234.6L427.6,236.2L431.1,240.2L442.1,242.6L447.2,244.1L453.4,246.4L457.8,252.4L459.8,256.9ZM497.0,307.0L473.5,308.5L475.4,301.4L479.2,293.8L478.5,286.7L474.1,277.7L474.5,269.7L476.9,260.8L481.9,254.7L484.3,252.1L487.8,248.5L489.9,243.0L496.3,245.1L505.8,250.2L508.0,257.9L508.2,264.2L502.8,270.4L506.3,275.6L509.6,270.3L513.2,267.5L518.1,273.9L521.1,283.1L520.3,289.6L517.9,293.1L515.8,299.0L512.5,304.5L497.0,307.0ZM438.6,215.3L442.1,212.5L446.6,209.4L446.0,208.6L441.5,211.6L438.0,214.7L438.6,215.3Z"/>
<path fill="#fdb060" d="M624.9,278.4L626.6,286.9L627.7,289.9L627.2,295.3L633.8,290.1L640.3,287.3L646.4,284.9L644.1,274.1L624.9,278.4Z"/>
<path fill="#e8452a" d="M644.1,274.1L646.4,284.9L650.6,282.5L652.5,280.7L650.5,276.8L648.9,272.8L644.1,274.1Z"/>
<path fill="#fbb05a" d="M624.9,278.4L644.1,274.1L648.9,272.8L650.5,276.8L652.5,280.7L653.9,280.0L658.4,278.0L658.7,274.6L665.3,274.4L665.8,271.8L663.6,268.3L661.9,268.8L663.4,270.0L657.7,270.8L654.9,267.4L651.9,265.0L654.9,260.9L651.6,258.2L649.1,259.2L647.4,261.5L634.0,265.1L624.9,267.0L624.9,278.4Z"/>
<path fill="#f99040" d="M624.9,267.0L634.0,265.1L632.1,259.6L632.0,249.8L632.4,240.0L635.9,233.4L635.5,227.6L615.6,232.7L617.5,240.4L619.4,248.1L620.3,254.4L622.1,254.7L624.9,267.0Z"/>
<path fill="#fdc26a" d="M635.5,227.6L635.9,233.4L632.4,240.0L632.0,249.8L632.1,259.6L634.0,265.1L647.4,261.5L649.1,259.2L651.6,258.2L652.1,254.8L649.8,251.7L646.1,244.5L642.9,233.9L638.8,222.0L635.5,227.6Z"/>
<path fill="#f99240" d="M638.8,222.0L640.8,219.8L644.6,210.7L645.1,202.4L644.4,197.7L649.1,184.2L653.7,187.3L658.6,183.1L665.5,185.5L672.0,206.0L675.9,206.4L680.6,212.3L684.6,216.9L680.5,223.1L673.9,228.4L666.8,228.0L662.5,237.5L655.1,244.5L652.1,254.8L649.8,251.7L646.1,244.5L642.9,233.9L638.8,222.0Z"/>
<path fill="#fdc371" d="M236.4,547.2L246.4,551.8L252.4,559.1L240.6,568.3L235.4,565.5L233.9,555.3L236.4,547.2ZM224.2,536.6L227.9,537.1L234.5,538.9L233.8,542.0L227.9,542.4L224.2,536.6ZM215.4,532.4L224.2,533.2L223.5,534.6L216.1,534.6L215.4,532.4ZM219.1,537.4L222.7,537.7L222.0,540.0L219.8,539.7L219.1,537.4ZM201.0,526.7L205.5,524.6L210.2,531.1L203.6,531.1L201.0,526.7ZM179.0,519.2L185.3,516.7L186.0,520.9L181.6,521.9L179.0,519.2Z"/>
<path fill="#fdfac4" d="M114.4,479.3L109.3,477.7L105.6,478.8L101.6,477.6L97.8,476.9L94.1,477.6L92.1,475.5L88.4,475.0L84.7,472.5L82.0,475.3L78.5,476.7L74.6,477.9L72.0,480.3L69.4,484.3L65.1,483.6L64.1,486.7L67.6,490.6L68.6,494.1L72.1,495.7L72.4,498.5L67.5,497.2L62.8,498.1L57.6,500.4L60.6,503.9L63.5,507.7L68.2,508.2L71.6,509.4L72.9,512.9L71.0,514.6L67.1,516.3L63.2,515.5L61.7,518.6L57.9,523.5L59.7,527.2L61.4,531.9L66.1,533.7L67.2,538.3L72.3,541.6L78.0,541.8L80.1,544.4L75.6,551.8L67.9,556.1L61.1,560.3L54.9,562.7L59.5,560.1L64.4,559.0L72.4,557.1L78.8,552.6L83.5,548.4L87.9,542.9L91.3,538.5L94.8,533.5L96.3,530.7L99.9,527.7L97.5,532.8L95.5,537.3L99.1,537.7L101.7,534.8L105.5,531.2L109.5,530.2L115.3,532.8L120.6,531.7L126.4,532.5L130.6,532.5L135.6,536.4L139.7,537.3L144.7,536.1L149.6,541.8L154.2,546.1L158.5,549.3L162.1,550.9L161.6,544.1L155.1,542.3L149.0,536.2L140.4,528.5L135.1,533.4L129.6,528.2L124.4,529.6L114.4,479.3ZM87.0,549.5L91.7,546.2L94.6,547.8L90.0,552.3L87.0,549.5Z"/>

</svg>
<div class="t" id="note">Note: Does not include some local taxes, taxes on net or gross receipts, or indirect burdens from<br>environmental programs<br>Source: US Energy Information Administration; State Statutes; Author Calculations</div>
<svg id="logosvg" width="720" height="714" viewBox="0 0 720 714" style="position:absolute;left:0;top:0">
<defs><clipPath id="lc"><circle cx="516.7" cy="680.5" r="14.2"/></clipPath></defs>
<g clip-path="url(#lc)">
<rect x="500" y="664" width="34" height="34" fill="#2a5c94"/>
<rect x="500" y="688" width="34" height="12" fill="#e6eaf0"/>
<path d="M510.4,672.6 L512.2,672.6 L513.2,678.3 L514.8,679.6 L516,682 L517,688 L505.6,688 L506.4,682 L508.2,679.6 L509.4,678.3 Z" fill="#f2f5fa"/>
<rect x="503" y="690" width="26" height="0.8" fill="#c3cad3"/>
<rect x="503" y="692.3" width="26" height="0.8" fill="#cdd3da"/>
</g></svg>
<div class="t" id="lt">TAX FOUNDATION</div>
</body></html>
